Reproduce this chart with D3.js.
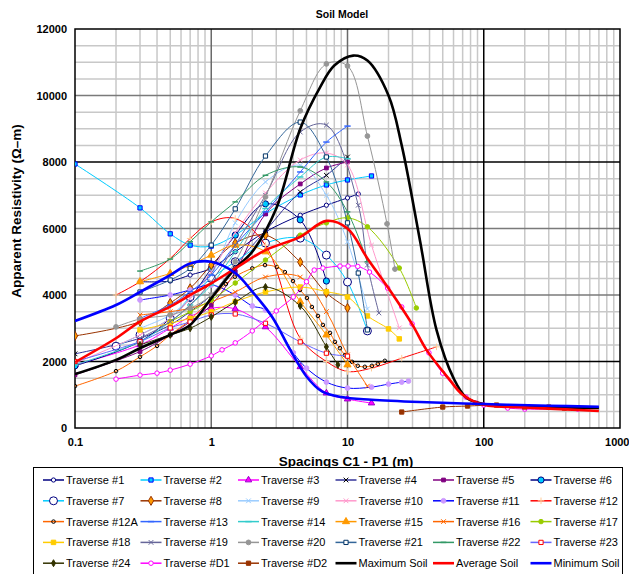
<!DOCTYPE html>
<html>
  <head>
    <meta http-equiv="Content-Type" content="text/html; charset=utf-8" />
    <style>
    body {
      margin: 0;
      background: #fff;
    }
    svg text {
      font-family: Arial, "Liberation Sans", sans-serif;
    }
    </style>
  </head>
  <body>
    <div id="chart"></div>
    <script src="https://d3js.org/d3.v7.min.js"></script>
    <script>

// spacing (m), apparent resistivity (ohm-m)
var t1 = [[0.3,4400],[0.5,4420],[0.7,4600],[1,4800],[1.5,5300],[2.5,5900],[4.5,6400],[7,6700],[10,6920],[12,7040]];
var t2 = [[0.1,7940],[0.3,6620],[0.5,5840],[0.7,5500],[1,5470],[1.5,5800],[2.5,6450],[4.5,7010],[7,7310],[10,7460],[15,7580]];
var t3 = [[0.1,1900],[0.3,2500],[0.5,3000],[0.7,3350],[1,3600],[1.5,3580],[2.5,3040],[4.5,1840],[7,1050],[10,870],[15,750]];
var t4 = [[0.1,2230],[0.3,2700],[0.5,3100],[0.7,3500],[1,4000],[1.5,4900],[2.5,5930],[4.5,7100],[7,7600],[10,8150]];
var t5 = [[0.1,1600],[0.3,2300],[0.5,2800],[0.7,3200],[1,3700],[1.5,4700],[2.5,6440],[4.5,7340],[7,7820],[10,8000]];
var t6 = [[0.1,1870],[0.3,2600],[0.5,3300],[0.7,3900],[1,4800],[1.5,5800],[2.5,6740],[4.5,6260],[7,4420]];
var t7 = [[0.2,2460],[0.3,2800],[0.5,3300],[0.7,3940],[1,4500],[1.5,5000],[2.5,5560],[4.5,5710],[7,5200],[10,4390],[14,2920]];
var t8 = [[0.1,2770],[0.3,3200],[0.5,3760],[0.7,4200],[1,4900],[1.5,5560],[2.5,5800],[4.5,4990],[7,4060],[10,3610]];
var t9 = [[0.3,3000],[0.5,3400],[0.7,3900],[1,4600],[1.5,6170],[2.5,7400],[4.5,7900],[7,7000],[10,5600],[14,3580]];
var t10 = [[0.1,1950],[0.3,2800],[0.5,3300],[0.7,3900],[1,4700],[1.5,5870],[2.5,7070],[4.5,8060],[7,8270],[10,7910],[15,5500],[24,3010]];
var t11 = [[0.3,3850],[0.5,4000],[0.7,4150],[1,4300],[1.5,4000],[2,3670],[2.5,3550],[4,2260],[5,1800],[7,1380],[10,1200],[15,1230],[20,1320],[25,1380],[28,1410]];
var t12 = [[0.2,4000],[0.3,4400],[0.5,5100],[0.7,5700],[1,6200],[1.5,6300],[2.5,5500],[4.5,2700],[7,2000],[10,1700],[15,1800],[25,2100],[45,2440]];
var t12A = [[0.1,1260],[0.2,1710],[0.3,2140],[0.4,2470],[0.5,2800],[0.7,3250],[1,3900],[1.28,4330],[1.49,4550],[2,4800],[2.48,4900],[3.03,4840],[3.47,4690],[3.98,4420],[4.48,4150],[5.04,3910],[5.48,3640],[6.07,3370],[6.6,3100],[7.44,2860],[8.09,2590],[8.8,2400],[9.57,2190],[10.8,1990],[11.9,1870],[13.4,1840],[15.1,1870],[16.7,1930],[18.8,2020]];
var t13 = [[0.3,3300],[0.5,3700],[0.7,4100],[1,4600],[1.5,5500],[2.5,6500],[4.5,7700],[7,8600],[10,9080]];
var t14 = [[0.1,1900],[0.3,2600],[0.5,3200],[0.7,3700],[1,4300],[1.5,5300],[2.5,6600],[4.5,7550],[7,8150],[10,8100]];
var t15 = [[0.3,4400],[0.5,4650],[0.7,4900],[1,5200],[1.5,5500],[2.5,5300],[4.5,3800],[7,2800],[10,1900]];
var t16 = [[0.3,3400],[0.5,3500],[0.7,3600],[1,3800],[1.5,4090],[2.5,4540],[4.5,4540],[7,3500],[10,2200],[14,1260]];
var t17 = [[0.5,3200],[0.7,3500],[1,3850],[1.5,4360],[2.5,5050],[4.5,5800],[7,6170],[10,6320],[14,6050],[24,4810],[32,3610]];
var t18 = [[0.3,2950],[0.5,3150],[0.7,3300],[1,3500],[1.5,3800],[2.5,4090],[4.5,4240],[7,4100],[10,3940],[14,3370],[20,2980],[24,2680]];
var t19 = [[0.3,2700],[0.5,3200],[0.7,3700],[1,4400],[1.5,5500],[2.5,7000],[4.5,8900],[7,9110],[12,6700],[14,4900],[17,3460]];
var t20 = [[0.2,3040],[0.3,3280],[0.5,3400],[0.7,3600],[1,4000],[1.5,5000],[2.5,6950],[4.5,9540],[7,10950],[10,10890],[14,8780],[19.5,6140],[22.3,4780]];
var t21 = [[0.3,4090],[0.5,4450],[0.7,4800],[1,5500],[1.5,6590],[2.5,8180],[4.5,9200],[7,8150],[10,6170],[12,4660],[14,2950]];
var t22 = [[0.3,4720],[0.5,5080],[0.7,5600],[1,6200],[1.5,6800],[2.5,7600],[4.5,7850],[7,7400],[10,6500],[14,5000]];
var t23 = [[0.1,2000],[0.3,2600],[0.5,3010],[0.7,3190],[1,3400],[1.5,3430],[2.5,3150],[4.5,2590],[7,2250],[10,2160]];
var t24 = [[0.3,2500],[0.5,2800],[0.7,3000],[1,3340],[1.5,3790],[2.5,4240],[4.5,3670],[7,2440],[8.5,1900]];
var tD1 = [[0.2,1470],[0.3,1590],[0.4,1650],[0.5,1740],[0.7,1920],[1,2170],[1.2,2350],[1.5,2560],[2,2920],[3,3520],[4,3940],[5,4400],[5.7,4750],[6.6,4810],[8.8,4870],[10.1,4870],[11.9,4860],[14.5,4690],[19.7,4210],[25,3640],[29.8,3130],[39.6,2260],[49.9,1650],[74,930],[88,750],[100,690],[150,600],[200,570],[490,570]];
var tD2 = [[25,480],[50,630],[76,660],[124,690],[200,630],[300,630],[390,600]];
var maxSoil = [[0.1,1620],[0.2,2050],[0.3,2400],[0.5,2800],[0.7,3100],[1,3900],[1.5,4800],[2,5300],[3,6600],[4.5,9000],[6.3,10250],[8,10900],[11,11200],[14,11050],[20,10000],[25,8500],[34,5650],[45,2950],[60,1500],[75,900],[100,720],[200,650],[700,600]];
var avgSoil = [[0.1,1980],[0.2,2700],[0.3,3200],[0.5,3650],[0.7,4000],[1,4350],[1.5,4800],[2.5,5350],[4.5,5750],[7,6230],[10,6000],[14,5100],[20,4200],[30,3100],[38,2350],[55,1500],[70,1000],[100,700],[200,620],[400,560],[700,510]];
var minSoil = [[0.1,3220],[0.2,3700],[0.3,4090],[0.5,4600],[0.7,4950],[1,5000],[1.5,4660],[2,4100],[2.8,3340],[3.8,2350],[5,1550],[6.5,1100],[9,930],[15,850],[34,780],[100,720],[300,670],[700,640]];

var seriesNames = ["Traverse #1","Traverse #2","Traverse #3","Traverse #4","Traverse #5","Traverse #6",
  "Traverse #7","Traverse #8","Traverse #9","Traverse #10","Traverse #11","Traverse #12",
  "Traverse #12A","Traverse #13","Traverse #14","Traverse #15","Traverse #16","Traverse #17",
  "Traverse #18","Traverse #19","Traverse #20","Traverse #21","Traverse #22","Traverse #23",
  "Traverse #24","Traverse #D1","Traverse #D2","Maximum Soil","Average Soil","Minimum Soil"];
var seriesData = [t1,t2,t3,t4,t5,t6,t7,t8,t9,t10,t11,t12,t12A,t13,t14,t15,t16,t17,t18,t19,t20,t21,t22,t23,t24,tD1,tD2,maxSoil,avgSoil,minSoil];

var xTicks = [0.1, 1, 10, 100, 1000];
var yTicks = [0, 2000, 4000, 6000, 8000, 10000, 12000];

// line colour, marker, marker fill, marker stroke, marker size
var styles = {
  "Traverse #1":   ["#000080", "circle", "#fff", "#000080", 14],
  "Traverse #2":   ["#00ccff", "square", "#00ccff", "#0000ff", 18],
  "Traverse #3":   ["#ff00ff", "triangle", "#ff00ff", "#9900cc", 18],
  "Traverse #4":   ["#333399", "x", "none", "#000", 16],
  "Traverse #5":   ["#800080", "square", "#800080", "#800080", 14],
  "Traverse #6":   ["#000080", "circle", "#00ccff", "#000080", 30],
  "Traverse #7":   ["#00ccff", "circle", "#fff", "#000080", 50],
  "Traverse #8":   ["#993300", "diamond", "#ff9900", "#993300", 24],
  "Traverse #9":   ["#99ccff", "x", "none", "#99ccff", 16],
  "Traverse #10":  ["#ff99cc", "x", "none", "#ff99cc", 16],
  "Traverse #11":  ["#0000ff", "circle", "#cc99ff", "#cc99ff", 18],
  "Traverse #12":  ["#ff0000", "plus", "none", "#ffcc99", 16],
  "Traverse #12A": ["#ff6600", "circle", "none", "#000", 10],
  "Traverse #13":  ["#3366ff", "dash", "none", "#3366ff", 10],
  "Traverse #14":  ["#33cccc", "dash", "none", "#33cccc", 10],
  "Traverse #15":  ["#ff9900", "triangle", "#ff9900", "#ff9900", 22],
  "Traverse #16":  ["#ff6600", "x", "none", "#ff6600", 16],
  "Traverse #17":  ["#99cc00", "circle", "#99cc00", "#99cc00", 16],
  "Traverse #18":  ["#ffcc00", "square", "#ffcc00", "#ffcc00", 20],
  "Traverse #19":  ["#666699", "x", "none", "#666699", 16],
  "Traverse #20":  ["#969696", "circle", "#969696", "#969696", 18],
  "Traverse #21":  ["#336699", "square", "#fff", "#003366", 18],
  "Traverse #22":  ["#339966", "dash", "none", "#339966", 8],
  "Traverse #23":  ["#6666ff", "square", "#fff", "#ff0000", 18],
  "Traverse #24":  ["#333300", "diamond", "#333300", "#333300", 14],
  "Traverse #D1":  ["#ff00ff", "circle", "#fff", "#ff00ff", 16],
  "Traverse #D2":  ["#993300", "square", "#993300", "#993300", 18],
  "Maximum Soil":  ["#000", null],
  "Average Soil":  ["#ff0000", null],
  "Minimum Soil":  ["#0000ff", null]
};

var width = 629, height = 574;
var plot = {left: 75, right: 620, top: 29, bottom: 428};

var svg = d3.select("#chart").append("svg")
    .attr("width", width)
    .attr("height", height);

var x = d3.scaleLog().domain([0.1, 1000]).range([plot.left, plot.right]);
var y = d3.scaleLinear().domain([0, 12000]).range([plot.bottom, plot.top]);

// grid
var minorX = [];
[0.1, 1, 10, 100].forEach(function(d){
  for (var k = 2; k <= 9; k++) minorX.push(d * k);
});
var minorY = d3.range(500, 12000, 500).filter(function(v){ return v % 2000 != 0; });

svg.append("g").selectAll("line").data(minorX).enter().append("line")
    .attr("x1", function(d){ return x(d); }).attr("x2", function(d){ return x(d); })
    .attr("y1", plot.top).attr("y2", plot.bottom)
    .style("stroke", "#c8c8c8").style("stroke-width", 1.5);

svg.append("g").selectAll("line").data(minorY).enter().append("line")
    .attr("x1", plot.left).attr("x2", plot.right)
    .attr("y1", function(d){ return y(d); }).attr("y2", function(d){ return y(d); })
    .style("stroke", "#c8c8c8").style("stroke-width", 1.5);

svg.append("g").selectAll("line").data(yTicks.slice(1, -1)).enter().append("line")
    .attr("x1", plot.left).attr("x2", plot.right)
    .attr("y1", function(d){ return y(d); }).attr("y2", function(d){ return y(d); })
    .style("stroke", function(d){ return (d == 2000 || d == 8000) ? "#000" : "#7a7a7a"; })
    .style("stroke-width", 1.5);

svg.append("g").selectAll("line").data(xTicks.slice(1, -1)).enter().append("line")
    .attr("x1", function(d){ return x(d); }).attr("x2", function(d){ return x(d); })
    .attr("y1", plot.top).attr("y2", plot.bottom)
    .style("stroke", function(d){ return d == 100 ? "#000" : "#6a6a6a"; })
    .style("stroke-width", 1.5);

svg.append("rect")
    .attr("x", plot.left).attr("y", plot.top)
    .attr("width", plot.right - plot.left).attr("height", plot.bottom - plot.top)
    .style("fill", "none").style("stroke", "#000").style("stroke-width", 1.5);

// axes
var yAxis = d3.axisLeft(y).tickValues(yTicks).tickSize(0).tickPadding(8).tickFormat(d3.format("d"));
var xAxis = d3.axisBottom(x).tickValues(xTicks).tickSize(0).tickPadding(10).tickFormat(function(d){ return String(d); });

svg.append("g").attr("transform", "translate(" + plot.left + ",0)").call(yAxis)
    .call(function(g){ g.select(".domain").remove(); })
    .selectAll("text").style("font-size", "11px").style("font-weight", "bold")
    .style("font-family", "Arial, 'Liberation Sans', sans-serif").attr("fill", "#000");

svg.append("g").attr("transform", "translate(0," + plot.bottom + ")").call(xAxis)
    .call(function(g){ g.select(".domain").remove(); })
    .selectAll("text").style("font-size", "11px").style("font-weight", "bold")
    .style("font-family", "Arial, 'Liberation Sans', sans-serif").attr("fill", "#000")
    // last label sits at the window edge; keep it inside
    .attr("text-anchor", function(d){ return d == 1000 ? "end" : "middle"; })
    .attr("x", function(d){ return d == 1000 ? 9 : 0; });

svg.append("text")
    .attr("x", 342).attr("y", 18)
    .attr("text-anchor", "middle")
    .style("font-size", "10.5px").style("font-weight", "bold")
    .text("Soil Model");

svg.append("text")
    .attr("transform", "translate(21,211) rotate(-90)")
    .attr("text-anchor", "middle")
    .style("font-size", "13.5px").style("font-weight", "bold")
    .text("Apparent Resistivity (Ω–m)");

svg.append("text")
    .attr("x", 346).attr("y", 466)
    .attr("text-anchor", "middle")
    .style("font-size", "13.5px").style("font-weight", "bold")
    .text("Spacings C1 - P1 (m)");

// markers
function markerPath(type, size) {
  if (type == "dash") { var h = Math.sqrt(size); return "M" + (-h) + ",0H" + h; }
  var t = {circle: d3.symbolCircle, square: d3.symbolSquare, triangle: d3.symbolTriangle,
           diamond: d3.symbolDiamond, x: d3.symbolX, plus: d3.symbolPlus}[type];
  return d3.symbol().type(t).size(size)();
}

var line = d3.line()
    .x(function(d){ return x(d[0]); })
    .y(function(d){ return y(d[1]); })
    .curve(d3.curveCatmullRom.alpha(0.5));

svg.append("clipPath").attr("id", "clip").append("rect")
    .attr("x", plot.left).attr("y", plot.top)
    .attr("width", plot.right - plot.left).attr("height", plot.bottom - plot.top);

var plotG = svg.append("g").attr("clip-path", "url(#clip)");

seriesNames.forEach(function(name, i){
  var s = styles[name];
  var data = seriesData[i];
  var thick = s[1] == null;
  plotG.append("path")
      .datum(data)
      .attr("d", line)
      .style("fill", "none")
      .style("stroke", s[0])
      .style("stroke-width", thick ? 2.6 : 1);
  if (!thick) {
    plotG.append("g").selectAll("path").data(data).enter().append("path")
        .attr("transform", function(d){ return "translate(" + x(d[0]) + "," + y(d[1]) + ")"; })
        .attr("d", markerPath(s[1], s[4]))
        .style("fill", s[1] == "x" || s[1] == "plus" || s[1] == "dash" ? "none" : s[2])
        .style("stroke", s[3])
        .style("stroke-width", s[1] == "dash" ? 1.5 : 1);
  }
});

// legend
var legend = svg.append("g");
legend.append("rect")
    .attr("x", 33.5).attr("y", 467.5)
    .attr("width", 589).attr("height", 120)
    .style("fill", "#fff").style("stroke", "#000").style("stroke-width", 1);

seriesNames.forEach(function(name, i){
  var s = styles[name];
  var col = i % 6, row = Math.floor(i / 6);
  var lx = 43 + col * 97.5, ly = 480 + row * 20.8;
  var thick = s[1] == null;
  var item = legend.append("g");
  item.append("line")
      .attr("x1", lx).attr("x2", lx + 21)
      .attr("y1", ly).attr("y2", ly)
      .style("stroke", s[0]).style("stroke-width", thick ? 2.6 : 1.5);
  if (!thick) {
    item.append("path")
        .attr("transform", "translate(" + (lx + 10.5) + "," + ly + ")")
        .attr("d", markerPath(s[1], s[4]))
        .style("fill", s[1] == "x" || s[1] == "plus" || s[1] == "dash" ? "none" : s[2])
        .style("stroke", s[3])
        .style("stroke-width", s[1] == "dash" ? 1.5 : 1);
  }
  item.append("text")
      .attr("x", lx + 23).attr("y", ly + 4)
      .style("font-size", "11px")
      .text(name);
});

    </script>
  </body>
</html>
